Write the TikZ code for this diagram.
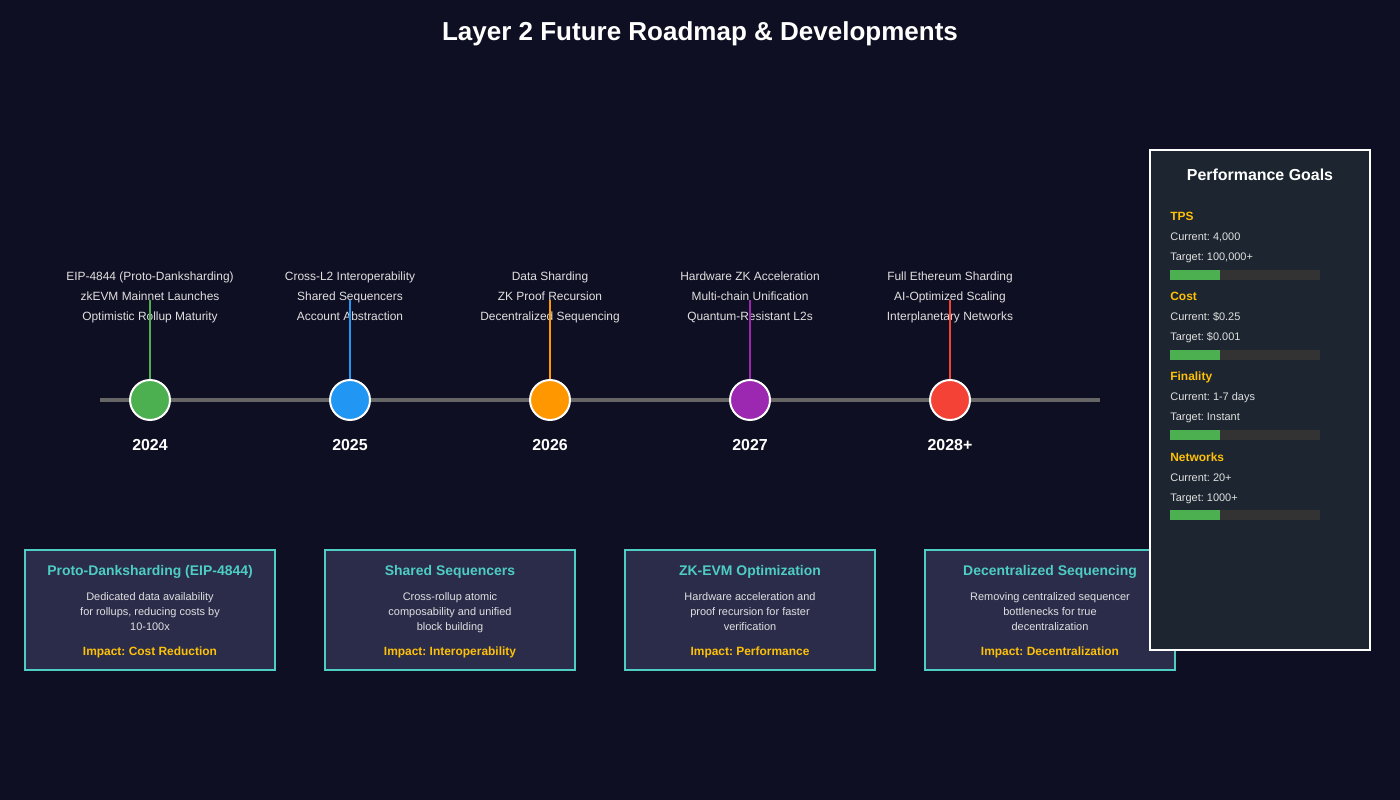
\documentclass[tikz,border=0pt]{standalone}
\usepackage{fontspec}
\setmainfont{Liberation Sans}
\frenchspacing
\definecolor{bgnavy}{HTML}{0F0F23}
\definecolor{cardfill}{HTML}{2A2C4A}
\definecolor{cardline}{HTML}{4ECDC4}
\definecolor{panelfill}{HTML}{1C2530}
\definecolor{gold}{HTML}{FFC107}
\definecolor{softgray}{HTML}{E0E0E0}
\definecolor{railgray}{HTML}{666666}
\definecolor{barbg}{HTML}{333333}
\definecolor{c2024}{HTML}{4CAF50}
\definecolor{c2025}{HTML}{2196F3}
\definecolor{c2026}{HTML}{FF9800}
\definecolor{c2027}{HTML}{9C27B0}
\definecolor{c2028}{HTML}{F44336}
\newcommand{\fsz}[1]{\fontsize{#1}{#1}\selectfont}
\tikzset{
  txt/.style={anchor=base,inner sep=0pt,text=softgray,font=\fsz{6.8}},
  yeartxt/.style={anchor=base,inner sep=0pt,text=white,font=\fsz{9.07}\bfseries},
  milestone/.style={circle,draw=white,line width=1.13pt,minimum size=0.8cm,inner sep=0pt},
  card/.style={draw=cardline,fill=cardfill,line width=1.13pt,minimum width=5cm,minimum height=2.4cm,inner sep=0pt},
  cardtitle/.style={anchor=base,inner sep=0pt,text=cardline,font=\fsz{7.94}\bfseries},
  carddesc/.style={anchor=base,inner sep=0pt,text=softgray,font=\fsz{6.24}},
  impact/.style={anchor=base,inner sep=0pt,text=gold,font=\fsz{6.8}\bfseries},
  goalhead/.style={anchor=base west,inner sep=0pt,text=gold,font=\fsz{6.8}\bfseries},
  goaltxt/.style={anchor=base west,inner sep=0pt,text=softgray,font=\fsz{6.24}}
}
\begin{document}
\begin{tikzpicture}[x=0.02cm,y=-0.02cm]
  \fill[bgnavy] (0,0) rectangle (1400,800);
  \node[anchor=base,inner sep=0pt,text=white,font=\fsz{14.8}\bfseries] (title) at (700,41)
    {Layer 2 Future Roadmap \& Developments};

  % timeline rail
  \coordinate (railL) at (100,400);
  \coordinate (railR) at (1100,400);
  \draw[railgray,line width=2.27pt] (railL) -- (railR);

  \foreach \i/\x/\yr/\ea/\eb/\ec in {
    2024/150/2024/EIP-4844 (Proto-Danksharding)/zkEVM Mainnet Launches/Optimistic Rollup Maturity,
    2025/350/2025/Cross-L2 Interoperability/Shared Sequencers/Account Abstraction,
    2026/550/2026/Data Sharding/ZK Proof Recursion/Decentralized Sequencing,
    2027/750/2027/Hardware ZK Acceleration/Multi-chain Unification/Quantum-Resistant L2s,
    2028/950/2028+/Full Ethereum Sharding/AI-Optimized Scaling/Interplanetary Networks}{
    \node[txt] (ev\i a) at (\x,281) {\ea};
    \node[txt] (ev\i b) at (\x,301) {\eb};
    \node[txt] (ev\i c) at (\x,321) {\ec};
    \node[milestone,fill=c\i] (m\i) at (\x,400) {};
    \coordinate (stem\i) at (\x,300);
    \draw[c\i,line width=1.13pt] (stem\i) -- (m\i.north);
    \node[yeartxt] (yr\i) at (\x,451) {\yr};
  }

  % development cards
  \foreach \i/\x/\ttl/\da/\db/\dc/\imp in {
    1/150/{Proto-Danksharding (EIP-4844)}/{Dedicated data availability}/{for rollups, reducing costs by}/{10-100x}/{Cost Reduction},
    2/450/{Shared Sequencers}/{Cross-rollup atomic}/{composability and unified}/{block building}/{Interoperability},
    3/750/{ZK-EVM Optimization}/{Hardware acceleration and}/{proof recursion for faster}/{verification}/{Performance},
    4/1050/{Decentralized Sequencing}/{Removing centralized sequencer}/{bottlenecks for true}/{decentralization}/{Decentralization}}{
    \node[card] (card\i) at (\x,610) {};
    \node[cardtitle] (ct\i) at (\x,575) {\ttl};
    \node[carddesc] (cda\i) at (\x,600) {\da};
    \node[carddesc] (cdb\i) at (\x,615) {\db};
    \node[carddesc] (cdc\i) at (\x,630) {\dc};
    \node[impact] (imp\i) at (\x,655) {Impact: \imp};
  }

  % performance goals panel
  \node[draw=white,fill=panelfill,line width=1.13pt,minimum width=4.4cm,minimum height=10cm,inner sep=0pt]
    (panel) at (1260,400) {};
  \node[anchor=base,inner sep=0pt,text=white,font=\fsz{9.07}\bfseries] (ptitle) at (1260,181) {Performance Goals};
  \foreach \k/\y/\hd/\cur/\tgt in {
    1/220/{TPS}/{4,000}/{100,000+},
    2/300/{Cost}/{\$0.25}/{\$0.001},
    3/380/{Finality}/{1-7 days}/{Instant},
    4/460/{Networks}/{20+}/{1000+}}{
    \node[goalhead] (gh\k) at (1170,\y+1) {\hd};
    \node[goaltxt] (gc\k) at (1170,\y+21) {Current: \cur};
    \node[goaltxt] (gt\k) at (1170,\y+41) {Target: \tgt};
    \fill[barbg] (1170,\y+50) rectangle (1320,\y+60);
    \fill[c2024] (1170,\y+50) rectangle (1220,\y+60);
  }
\end{tikzpicture}
\end{document}
